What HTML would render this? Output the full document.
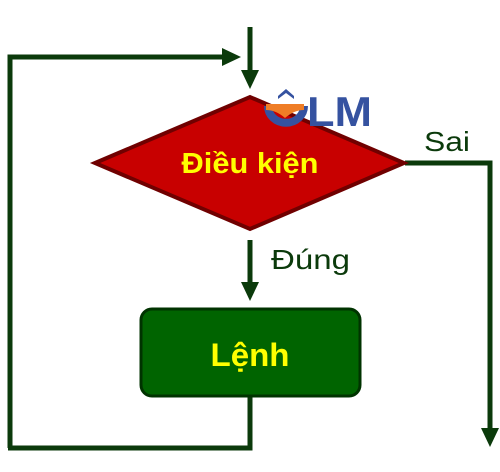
<!DOCTYPE html>
<html><head><meta charset="utf-8"><style>html,body{margin:0;padding:0;background:#fff}</style></head>
<body>
<svg width="500" height="467" viewBox="0 0 500 467" xmlns="http://www.w3.org/2000/svg">
<g stroke="#0b3a0b" stroke-width="5" fill="none">
<line x1="250" y1="27" x2="250" y2="72"/>
<polyline points="10,448 10,57 224,57"/>
<polyline points="405,163 490,163 490,430"/>
<line x1="250" y1="240" x2="250" y2="284"/>
<polyline points="250,395 250,448 8,448"/>
</g>
<g fill="#0b3a0b">
<polygon points="241,70 259,70 250,89"/>
<polygon points="222,48 222,66 241,57"/>
<polygon points="481,428 499,428 490,447"/>
<polygon points="241,282 259,282 250,301"/>
</g>
<polygon points="95,163 250,97 404,163 250,229" fill="#c80000" stroke="#700000" stroke-width="4"/>
<rect x="141" y="309" width="219" height="87" rx="11" fill="#006400" stroke="#003300" stroke-width="3"/>
<g font-family="Liberation Sans, sans-serif" font-weight="bold" fill="#ffff00" text-anchor="middle">
<text x="250" y="173" font-size="29" textLength="137" lengthAdjust="spacingAndGlyphs">Điều kiện</text>
<text x="250" y="366" font-size="32" textLength="79" lengthAdjust="spacingAndGlyphs">Lệnh</text>
</g>
<g font-family="Liberation Sans, sans-serif" fill="#0b3a0b" font-size="28">
<text x="424" y="151" textLength="46" lengthAdjust="spacingAndGlyphs">Sai</text>
<text x="271" y="269" textLength="79" lengthAdjust="spacingAndGlyphs">Đúng</text>
</g>
<g>
<path d="M268,106 a15,14 0 0 0 36,0" stroke="#3552a0" stroke-width="8" fill="none"/>
<path d="M266,104 h38 v6 q-10,0 -19,8 q-9,-8 -19,-8z" fill="#ef7d26"/>
<polygon points="278,96 286,89 294,96 294,99 286,93 278,99" fill="#3552a0"/>
<text x="307" y="126" font-family="Liberation Sans, sans-serif" font-weight="bold" font-size="42" fill="#3552a0" textLength="65" lengthAdjust="spacingAndGlyphs">LM</text>
</g>
</svg>
</body></html>
